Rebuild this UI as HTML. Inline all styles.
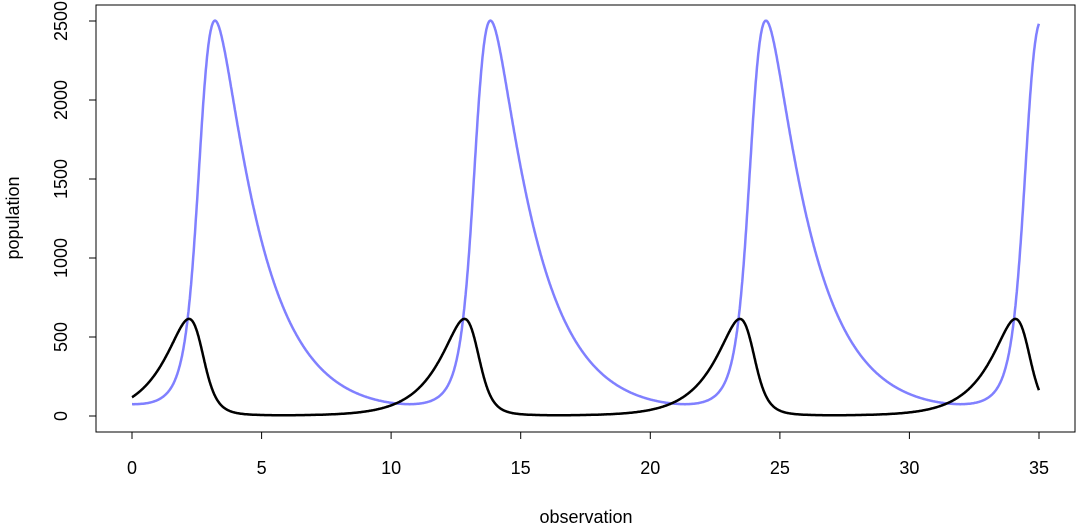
<!DOCTYPE html>
<html><head><meta charset="utf-8"><style>
body{margin:0;background:#fff}
svg{display:block;font-family:"Liberation Sans",sans-serif}
</style></head><body>
<svg id="s" width="1080" height="528" xmlns="http://www.w3.org/2000/svg">
<rect x="96" y="5" width="979" height="427" fill="none" stroke="#000" stroke-width="1"/>
<g stroke="#000" stroke-width="1">
<line x1="132" y1="432" x2="132" y2="439"/><line x1="261.6" y1="432" x2="261.6" y2="439"/>
<line x1="391.1" y1="432" x2="391.1" y2="439"/><line x1="520.7" y1="432" x2="520.7" y2="439"/>
<line x1="650.3" y1="432" x2="650.3" y2="439"/><line x1="779.9" y1="432" x2="779.9" y2="439"/>
<line x1="909.4" y1="432" x2="909.4" y2="439"/><line x1="1039" y1="432" x2="1039" y2="439"/>
<line x1="89" y1="416" x2="96" y2="416"/><line x1="89" y1="337" x2="96" y2="337"/>
<line x1="89" y1="258" x2="96" y2="258"/><line x1="89" y1="179" x2="96" y2="179"/>
<line x1="89" y1="100" x2="96" y2="100"/><line x1="89" y1="21" x2="96" y2="21"/>
</g>
<g font-size="18" text-anchor="middle" fill="#000">
<text x="132" y="474">0</text><text x="261.6" y="474">5</text><text x="391.1" y="474">10</text>
<text x="520.7" y="474">15</text><text x="650.3" y="474">20</text><text x="779.9" y="474">25</text>
<text x="909.4" y="474">30</text><text x="1039" y="474">35</text>
<text x="586" y="523">observation</text>
<text transform="translate(19,218) rotate(-90)">population</text>
<text transform="translate(67,416) rotate(-90)">0</text>
<text transform="translate(67,337) rotate(-90)">500</text>
<text transform="translate(67,258) rotate(-90)">1000</text>
<text transform="translate(67,179) rotate(-90)">1500</text>
<text transform="translate(67,100) rotate(-90)">2000</text>
<text transform="translate(67,21) rotate(-90)">2500</text>
</g>
<polyline id="pred" fill="none" stroke="#8080ff" stroke-width="2.5"/>
<polyline id="prey" fill="none" stroke="#000" stroke-width="2.5"/>
</svg>
<script>
(function(){
var X=127,Y=692,g=1,a=1.7,d=g/X,b=a/Y;
function f(s){var x=s[0],y=s[1];return [a*x-b*x*y, d*x*y-g*y];}
function step(s,h){var k1=f(s),k2=f([s[0]+h/2*k1[0],s[1]+h/2*k1[1]]),
k3=f([s[0]+h/2*k2[0],s[1]+h/2*k2[1]]),k4=f([s[0]+h*k3[0],s[1]+h*k3[1]]);
return [s[0]+h/6*(k1[0]+2*k2[0]+2*k3[0]+k4[0]),s[1]+h/6*(k1[1]+2*k2[1]+2*k3[1]+k4[1])];}
var h=0.0005,s=[130,75],t=0,peaks=[];
while(t<200&&peaks.length<3){
var n=step(s,h);var dx1=f(s)[0],dx2=f(n)[0];if(dx1>0&&dx2<=0)peaks.push(t);s=n;t+=h;}
var T=peaks.length>=2?(peaks[1]-peaks[0]):10.63;var sc=10.63/T;
var s2=[130,75],back=0.1/sc,bt=0;
while(bt<back){s2=step(s2,-h);bt+=h;}
var p1=[],p2=[],tt=0,cnt=0;
while(tt*sc<=35.0001){if(cnt%20==0){var px=132+tt*sc*25.914;
p2.push(px.toFixed(1)+","+(416-s2[0]*0.158).toFixed(1));
p1.push(px.toFixed(1)+","+(416-s2[1]*0.158).toFixed(1));}
s2=step(s2,h);tt+=h;cnt++;}
document.getElementById("pred").setAttribute("points",p1.join(" "));
document.getElementById("prey").setAttribute("points",p2.join(" "));
})();
</script>
</body></html>
